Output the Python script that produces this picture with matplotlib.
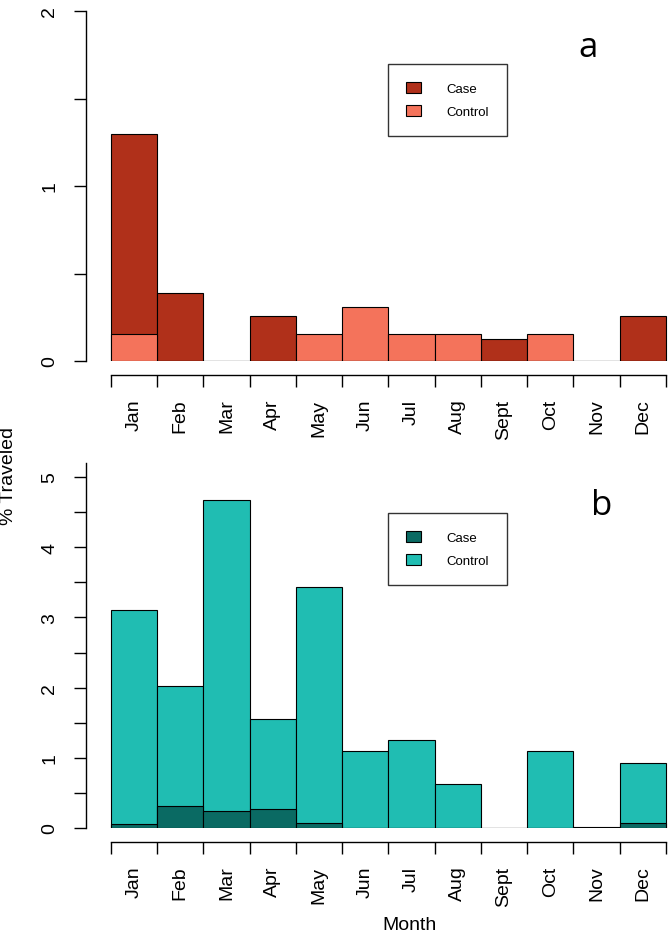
import numpy as np
import matplotlib
matplotlib.use("Agg")
import matplotlib.pyplot as plt
from matplotlib.ticker import FixedLocator, FixedFormatter

PX = 72 / 100  # points per pixel at dpi 100

plt.rcParams['font.family'] = ['Liberation Sans', 'DejaVu Sans']
plt.rcParams['xtick.labelsize'] = 14
plt.rcParams['ytick.labelsize'] = 14
plt.rcParams['xtick.major.size'] = 12 * PX
plt.rcParams['ytick.major.size'] = 12 * PX
plt.rcParams['xtick.major.width'] = 1.0
plt.rcParams['ytick.major.width'] = 1.0
plt.rcParams['xtick.minor.size'] = 0
plt.rcParams['xtick.minor.pad'] = 17
plt.rcParams['ytick.major.pad'] = 11.5

months = ["Jan", "Feb", "Mar", "Apr", "May", "Jun", "Jul", "Aug", "Sept", "Oct", "Nov", "Dec"]

# panel a
case_a = [1.30, 0.39, 0.0, 0.26, 0.0, 0.0, 0.0, 0.0, 0.125, 0.0, 0.0, 0.26]
control_a = [0.155, 0.0, 0.0, 0.0, 0.155, 0.31, 0.155, 0.155, 0.0, 0.155, 0.0, 0.0]

# panel b
case_b = [0.05, 0.31, 0.24, 0.27, 0.07, 0.0, 0.0, 0.0, 0.0, 0.0, 0.0, 0.07]
control_b = [3.11, 2.03, 4.67, 1.56, 3.43, 1.09, 1.25, 0.625, 0.0, 1.09, 0.02, 0.93]

W, H = 671, 937

fig = plt.figure(figsize=(W / 100, H / 100), dpi=100)


def panel(y0, y1, ymax, yticks, case, control, c_case, c_ctrl, letter, letter_xy, leg_xy):
    ax = fig.add_axes([86 / W, 1 - y0 / H, (W - 86) / W, (y0 - y1) / H])
    x = np.arange(len(months))
    bc = ax.bar(x, case, width=1, align="edge", color=c_case, edgecolor="black", linewidth=0.8)
    bk = ax.bar(x, control, width=1, align="edge", color=c_ctrl, edgecolor="black", linewidth=0.8)
    # smaller bar drawn over the larger one
    for i in range(len(months)):
        if case[i] <= control[i]:
            bc[i].set_zorder(3)
            bk[i].set_zorder(2)
        else:
            bc[i].set_zorder(2)
            bk[i].set_zorder(3)

    ax.set_xlim(-(110.7 - 86) / 46.3, 12 + (W - 666) / 46.3)
    ax.set_ylim(0, ymax)
    for s in ["top", "right"]:
        ax.spines[s].set_visible(False)
    ax.spines["left"].set_bounds(0, ymax)
    ax.spines["bottom"].set_position(("outward", 14 * PX))
    ax.spines["bottom"].set_bounds(0, 12)
    for s in ["left", "bottom"]:
        ax.spines[s].set_linewidth(1.0)

    ax.yaxis.set_major_locator(FixedLocator(yticks))
    ax.yaxis.set_major_formatter(FixedFormatter([str(int(v)) if v == int(v) else "" for v in yticks]))
    for lab in ax.get_yticklabels():
        lab.set_rotation(90)
        lab.set_va("center")

    ax.xaxis.set_major_locator(FixedLocator(np.arange(13)))
    ax.xaxis.set_major_formatter(FixedFormatter([""] * 13))
    ax.xaxis.set_minor_locator(FixedLocator(x + 0.5))
    ax.xaxis.set_minor_formatter(FixedFormatter(months))
    for lab in ax.get_xticklabels(minor=True):
        lab.set_rotation(90)
        lab.set_va("top")

    leg = ax.legend([bc[0], bk[0]], ["Case", "Control"],
                    loc="upper left", bbox_to_anchor=(leg_xy[0] / W, 1 - leg_xy[1] / H),
                    bbox_transform=fig.transFigure, fancybox=False, frameon=True,
                    fontsize=9.5, borderpad=1.35, labelspacing=0.8, handlelength=1.15,
                    handleheight=0.9, handletextpad=1.95, borderaxespad=0)
    leg.get_frame().set_edgecolor("black")
    leg.get_frame().set_linewidth(1.0)
    for h, c in zip(leg.legend_handles, [c_case, c_ctrl]):
        h.set_facecolor(c)
        h.set_edgecolor("black")

    fig.text(letter_xy[0] / W, 1 - letter_xy[1] / H, letter, family=["Open Sans", "DejaVu Sans"],
             fontsize=25, ha="center", va="baseline")
    return ax


panel(362, 12, 2.0, np.arange(0, 2.01, 0.5), case_a, control_a,
      "#B0301A", "#F4735B", "a", (588, 57), (388, 65))
panel(829, 464, 5.2, np.arange(0, 5.01, 0.5), case_b, control_b,
      "#0A6A63", "#20BDB2", "b", (602, 515), (388, 514))

fig.text(9 / W, 1 - 476 / H, "% Traveled", rotation=90, ha="center", va="center", fontsize=14)
fig.text(410 / W, 1 - 926 / H, "Month", ha="center", va="center", fontsize=14)

fig.savefig("out.png", dpi=100)
